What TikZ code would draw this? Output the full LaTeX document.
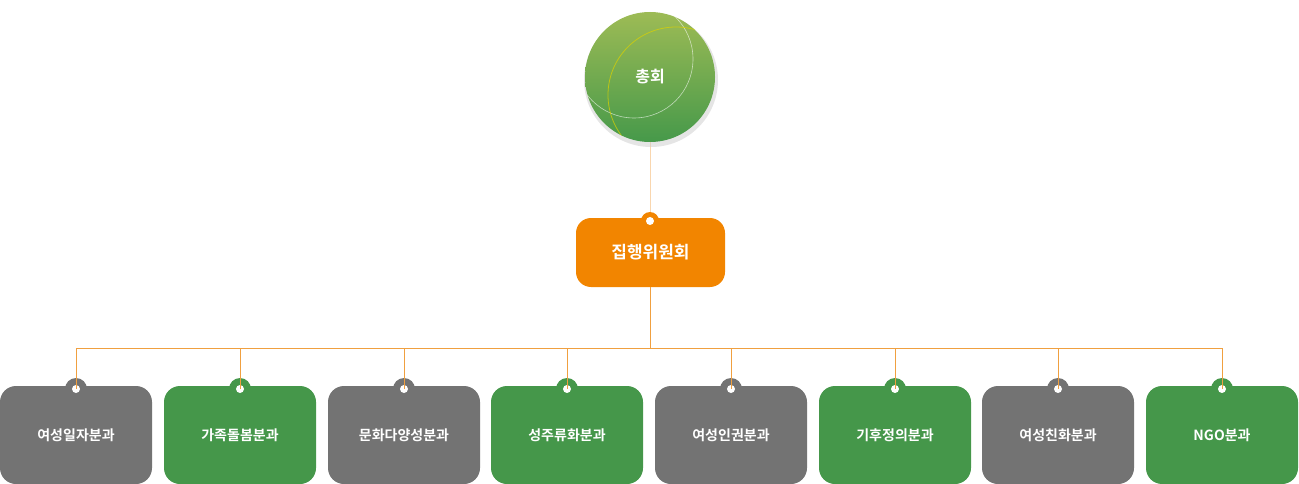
\documentclass[tikz,border=0pt]{standalone}
\usepackage{fontspec}
\setmainfont{Noto Sans CJK KR}[BoldFont={Noto Sans CJK KR Bold}]
\usetikzlibrary{shadows}
\definecolor{gr}{HTML}{737373}
\definecolor{gn}{HTML}{45974A}
\definecolor{og}{HTML}{F28500}
\definecolor{ln}{HTML}{F0A040}
\definecolor{pl}{HTML}{F9D6AE}
\begin{document}
\begin{tikzpicture}[x=1pt,y=-1pt,
  box/.style={rounded corners=16pt,minimum width=152pt,minimum height=98pt,inner sep=0pt,text=white,font=\fontsize{14}{14}\selectfont\bfseries},
  wdot/.style={circle,fill=white,inner sep=0pt,minimum size=8pt}]
\useasboundingbox (0,0) rectangle (1299,484);
% top circle
\draw[pl,line width=1pt] (650,120) -- (650,218);
\fill[gray!40,opacity=0.5] (651,80) circle (67);
\node[circle,minimum size=130pt,inner sep=0pt,top color={rgb,255:red,157;green,187;blue,85},bottom color={rgb,255:red,70;green,153;blue,74}] (top) at (650,77) {};
\begin{scope}
\clip (650,77) circle (65);
\draw[white,opacity=0.6,line width=0.6pt] (634,59) circle (59);
\draw[yellow!70!olive,opacity=0.7,line width=0.8pt] (676,95) circle (68);
\end{scope}
\node[text=white,font=\fontsize{16}{16}\selectfont\bfseries] at (650,77) {총회};
% exec
\node[box,fill=og,minimum width=149pt,minimum height=69pt,rounded corners=15pt,font=\fontsize{17}{17}\selectfont\bfseries] (ex) at (650.5,252.5) {집행위원회};
\fill[og] (650,221) circle (9);
\node[wdot] (exd) at (650,221) {};
\draw[ln,line width=0.8pt] (650,287) -- (650,348);
\draw[ln,line width=0.8pt] (76,348) -- (1222,348);
\foreach \x/\c/\t [count=\i] in {76/gr/여성일자분과,240/gn/가족돌봄분과,404/gr/문화다양성분과,567/gn/성주류화분과,731/gr/여성인권분과,895/gn/기후정의분과,1058/gr/여성친화분과,1222/gn/NGO분과}{
  \node[box,fill=\c] (b\i) at (\x,435) {\t};
  \fill[\c] (\x,389) circle (11);
  \node[wdot] (d\i) at (\x,389) {};
  \draw[ln,line width=0.8pt] (\x,348) -- (d\i.center);
}
\end{tikzpicture}
\end{document}
